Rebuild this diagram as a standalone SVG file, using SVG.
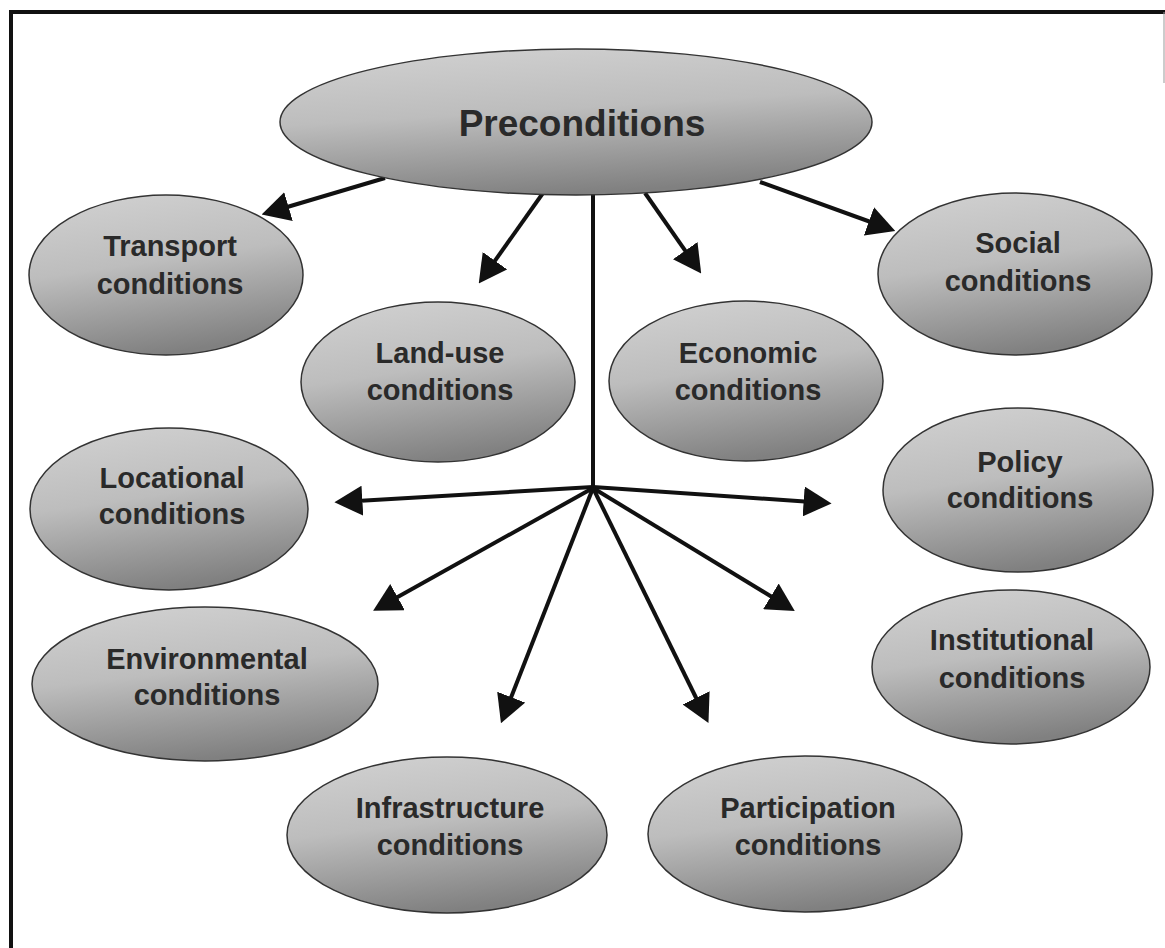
<svg xmlns="http://www.w3.org/2000/svg" width="1165" height="948" viewBox="0 0 1165 948">
<defs>
<linearGradient id="g" x1="0.2" y1="0" x2="0.45" y2="1">
<stop offset="0" stop-color="#d0d0d0"/>
<stop offset="0.45" stop-color="#bdbdbd"/>
<stop offset="1" stop-color="#808080"/>
</linearGradient>
<marker id="ah" viewBox="0 0 10 10" refX="8" refY="5" markerWidth="7" markerHeight="7.5" orient="auto" preserveAspectRatio="none">
<path d="M0,0 L10,5 L0,10 z" fill="#111"/>
</marker>
<style>
.n ellipse{fill:url(#g);stroke:#333;stroke-width:1.5}
.n text{font-family:"Liberation Sans",Arial,sans-serif;font-weight:bold;font-size:29px;fill:#2a2a2a;text-anchor:middle}
.c line{stroke:#111;stroke-width:4}
.c .a{marker-end:url(#ah)}
</style>
</defs>
<rect width="1165" height="948" fill="#fff"/>
<g id="frame" fill="none">
<path d="M11,948 V12 H1165" stroke="#111" stroke-width="4"/>
<line x1="1164" y1="12" x2="1164" y2="83" stroke="#999" stroke-width="1"/>
</g>
<g class="c" id="connectors">
<line class="a" x1="385" y1="178" x2="267" y2="213"/>
<line class="a" x1="543" y1="193" x2="482" y2="279"/>
<line class="a" x1="645" y1="193" x2="698" y2="269"/>
<line class="a" x1="760" y1="182" x2="890" y2="229"/>
<line x1="593" y1="194" x2="593" y2="489"/>
<line class="a" x1="593" y1="487" x2="340" y2="502"/>
<line class="a" x1="593" y1="487" x2="826" y2="503"/>
<line class="a" x1="593" y1="488" x2="378" y2="608"/>
<line class="a" x1="593" y1="488" x2="790" y2="608"/>
<line class="a" x1="593" y1="488" x2="503" y2="718"/>
<line class="a" x1="593" y1="488" x2="706" y2="718"/>
</g>
<g class="n" id="preconditions">
<ellipse cx="576" cy="122" rx="296" ry="73"/>
<text x="582" y="136" style="font-size:37px">Preconditions</text>
</g>
<g class="n" id="transport">
<ellipse cx="166" cy="275" rx="137" ry="80"/>
<text x="170" y="256">Transport</text>
<text x="170" y="294">conditions</text>
</g>
<g class="n" id="landuse">
<ellipse cx="438" cy="382" rx="137" ry="80"/>
<text x="440" y="363">Land-use</text>
<text x="440" y="400">conditions</text>
</g>
<g class="n" id="economic">
<ellipse cx="746" cy="381" rx="137" ry="80"/>
<text x="748" y="363">Economic</text>
<text x="748" y="400">conditions</text>
</g>
<g class="n" id="social">
<ellipse cx="1015" cy="274" rx="137" ry="81"/>
<text x="1018" y="253">Social</text>
<text x="1018" y="291">conditions</text>
</g>
<g class="n" id="locational">
<ellipse cx="169" cy="509" rx="139" ry="81"/>
<text x="172" y="488">Locational</text>
<text x="172" y="524">conditions</text>
</g>
<g class="n" id="policy">
<ellipse cx="1018" cy="490" rx="135" ry="82"/>
<text x="1020" y="472">Policy</text>
<text x="1020" y="508">conditions</text>
</g>
<g class="n" id="environmental">
<ellipse cx="205" cy="684" rx="173" ry="77"/>
<text x="207" y="669">Environmental</text>
<text x="207" y="705">conditions</text>
</g>
<g class="n" id="institutional">
<ellipse cx="1011" cy="667" rx="139" ry="77"/>
<text x="1012" y="650">Institutional</text>
<text x="1012" y="688">conditions</text>
</g>
<g class="n" id="infrastructure">
<ellipse cx="447" cy="835" rx="160" ry="78"/>
<text x="450" y="818">Infrastructure</text>
<text x="450" y="855">conditions</text>
</g>
<g class="n" id="participation">
<ellipse cx="805" cy="834" rx="157" ry="78"/>
<text x="808" y="818">Participation</text>
<text x="808" y="855">conditions</text>
</g>
</svg>
